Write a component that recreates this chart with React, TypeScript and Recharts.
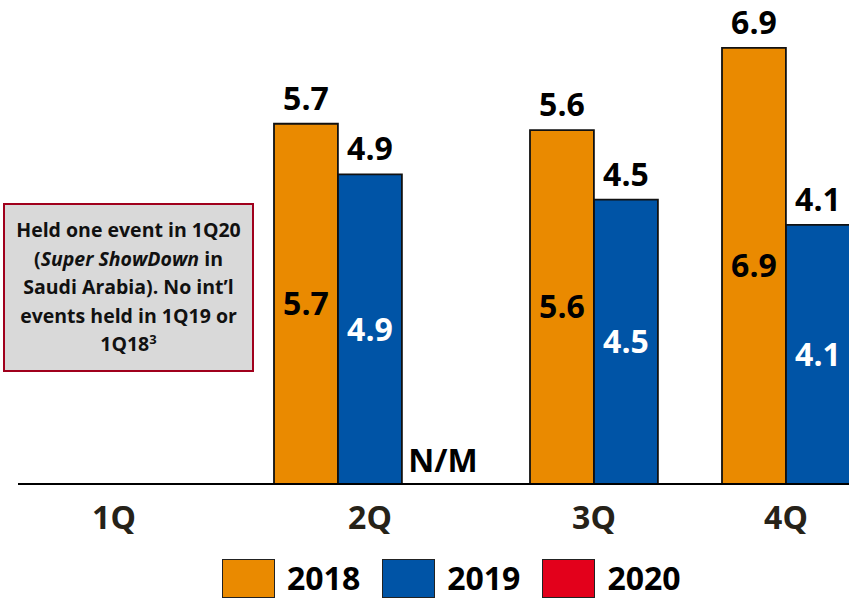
import { BarChart, Bar, XAxis, YAxis, Legend, LabelList } from 'recharts';

const quarters = ['1Q', '2Q', '3Q', '4Q'];
const seriesNames = ['2018', '2019', '2020'];
const rev2018 = [null, 5.7, 5.6, 6.9];
const rev2019 = [null, 4.9, 4.5, 4.1];
const rev2020 = [null, null, null, null];
const notes2020 = ['', 'N/M', '', '']; // 2Q20 not meaningful

// layout: centre of each quarter's 3-slot group and of its tick label, in bar widths
const groupX = [1.5, 5.5, 9.5, 12.5];
const labelX = [1.5, 5.5, 9, 12];

const COLORS = ['#EA8A00', '#0054A6', '#E3001B'];
const FONT = '"Open Sans", Lato, sans-serif';

const rows: any[] = [];
quarters.forEach((q, i) => {
  [rev2018, rev2019, rev2020].forEach((s, j) => {
    if (s[i] == null) return;
    const row: any = { x: groupX[i] + j - 1, q };
    row['y' + seriesNames[j]] = s[i];
    if (j === 1) row.note2020 = notes2020[i];
    rows.push(row);
  });
});

const renderLegend = () => (
  <div style={{ width: 850, height: 48, display: 'flex', alignItems: 'center', paddingLeft: 222, boxSizing: 'border-box' }}>
    {seriesNames.map((n, i) => (
      <div key={n} style={{ display: 'flex', alignItems: 'center', marginRight: 22 }}>
        <div style={{ width: 53, height: 39, background: COLORS[i], border: '1.5px solid #222', boxSizing: 'border-box' }} />
        <span style={{ marginLeft: 12, fontFamily: FONT, fontWeight: 700, fontSize: 32, color: '#000', lineHeight: 1 }}>{n}</span>
      </div>
    ))}
  </div>
);

const topLabel = { fontFamily: FONT, fontWeight: 700, fontSize: 32, fill: '#000' };

// N/M sits in the empty 2020 slot next to the 2019 bar
const NoteLabel = (props: any) => {
  const { x, y, width, height, value } = props;
  if (!value) return null;
  return (
    <text x={x + width * 1.5 + 9} y={y + height - 12} textAnchor="middle" style={topLabel}>
      {value}
    </text>
  );
};

export default function App() {
  return (
    <div style={{ position: 'relative', width: 849, height: 602, overflow: 'hidden', background: '#fff' }}>
      <style>{'body{margin:0}'}</style>
      <BarChart width={850} height={602} data={rows} margin={{ top: 10, right: 0, bottom: 0, left: 18 }}>
        <XAxis
          type="number"
          dataKey="x"
          domain={[0, 13]}
          ticks={labelX}
          tickFormatter={(v) => quarters[labelX.indexOf(v)]}
          tickLine={false}
          axisLine={{ stroke: '#000', strokeWidth: 2 }}
          tickMargin={16}
          height={70}
          tick={{ fontFamily: FONT, fontWeight: 700, fontSize: 32, fill: '#262218' }}
        />
        <YAxis hide domain={[0, 7.5]} />
        <Legend verticalAlign="bottom" height={48} content={renderLegend} wrapperStyle={{ left: 0, bottom: 0, width: 850 }} />
        <Bar dataKey="y2018" name="2018" stackId="a" barSize={63.9} fill={COLORS[0]} stroke="#111" strokeWidth={1.8} isAnimationActive={false}>
          <LabelList dataKey="y2018" position="top" offset={14} style={topLabel} />
          <LabelList dataKey="y2018" position="center" style={topLabel} />
        </Bar>
        <Bar dataKey="y2019" name="2019" stackId="a" barSize={63.9} fill={COLORS[1]} stroke="#111" strokeWidth={1.8} isAnimationActive={false}>
          <LabelList dataKey="y2019" position="top" offset={14} style={topLabel} />
          <LabelList dataKey="y2019" position="center" style={{ ...topLabel, fill: '#fff' }} />
          <LabelList dataKey="note2020" content={NoteLabel} />
        </Bar>
        <Bar dataKey="y2020" name="2020" stackId="a" barSize={63.9} fill={COLORS[2]} stroke="#111" strokeWidth={1.8} isAnimationActive={false} />
      </BarChart>
      <div
        style={{
          position: 'absolute', left: 3, top: 203, width: 251, height: 169, boxSizing: 'border-box',
          background: '#d9d9d9', border: '2px solid #a0001c', display: 'flex', alignItems: 'center', justifyContent: 'center',
          textAlign: 'center', fontFamily: FONT, fontWeight: 700, fontSize: 19.5, lineHeight: '28.5px', color: '#111',
        }}
      >
        <div>
          Held one event in 1Q20
          <br />(<i>Super ShowDown</i> in
          <br />Saudi Arabia). No int’l
          <br />events held in 1Q19 or
          <br />1Q18<sup style={{ fontSize: 13, lineHeight: 0 }}>3</sup>
        </div>
      </div>
    </div>
  );
}
